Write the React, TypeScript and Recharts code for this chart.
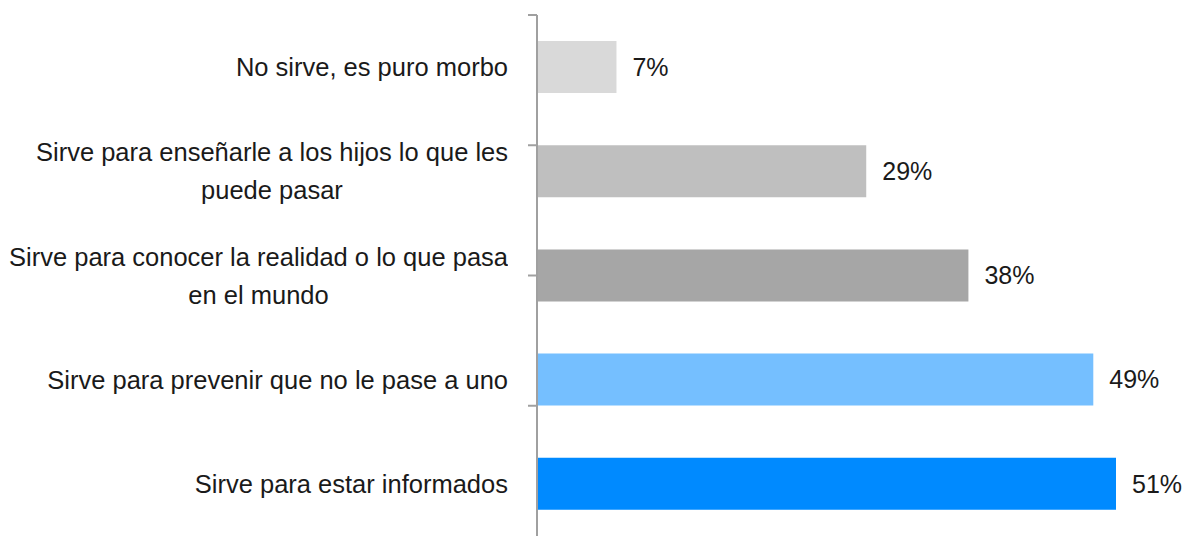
import { BarChart, Bar, XAxis, YAxis, Cell, LabelList } from 'recharts';

const categories = [
  'No sirve, es puro morbo',
  'Sirve para enseñarle a los hijos lo que les\npuede pasar',
  'Sirve para conocer la realidad o lo que pasa\nen el mundo',
  'Sirve para prevenir que no le pase a uno',
  'Sirve para estar informados',
];
const values = [7, 29, 38, 49, 51];
const barColors = ['#d9d9d9', '#bfbfbf', '#a6a6a6', '#75bfff', '#008aff'];
// band edges used only for the tick marks on the vertical axis
const frameTicks = [0, 1, 2, 3, 4, 5];

const FONT = '"Liberation Sans", Arial, sans-serif';

const data = categories.map((label, i) => ({ label, value: values[i] }));

function CategoryTick(props: any) {
  const { x, y, payload } = props;
  return (
    <foreignObject x={x - 500} y={y - 60} width={500} height={120}>
      <div
        style={{
          display: 'flex',
          height: '100%',
          alignItems: 'center',
          justifyContent: 'flex-end',
        }}
      >
        <span
          style={{
            textAlign: 'center',
            whiteSpace: 'pre-line',
            fontFamily: FONT,
            fontSize: 25.5,
            lineHeight: '38px',
            color: '#1a1a1a',
          }}
        >
          {payload.value}
        </span>
      </div>
    </foreignObject>
  );
}

export default function App() {
  return (
    <div style={{ position: 'absolute', left: 0, top: 0, width: 1193, height: 536, background: '#fff' }}>
      <BarChart
        width={1193}
        height={537}
        data={data}
        layout="vertical"
        margin={{ top: 15, right: 77, bottom: 1, left: 0 }}
      >
        <XAxis type="number" domain={[0, 51]} hide />
        <YAxis
          yAxisId="a-frame"
          type="number"
          domain={[0, 5]}
          ticks={frameTicks}
          width={1}
          tickSize={9}
          tickFormatter={() => ''}
          axisLine={{ stroke: '#a0a0a0', strokeWidth: 2 }}
          tickLine={{ stroke: '#a0a0a0', strokeWidth: 2 }}
        />
        <YAxis
          yAxisId="b-labels"
          type="category"
          dataKey="label"
          width={536}
          axisLine={false}
          tickLine={false}
          tickSize={0}
          tickMargin={28}
          interval={0}
          tick={<CategoryTick />}
        />
        <Bar yAxisId="b-labels" dataKey="value" barSize={52} isAnimationActive={false}>
          {data.map((_, i) => (
            <Cell key={i} fill={barColors[i]} />
          ))}
          <LabelList
            dataKey="value"
            position="right"
            offset={16}
            formatter={(v: any) => `${v}%`}
            style={{ fontFamily: FONT, fontSize: 25, fill: '#1a1a1a' }}
          />
        </Bar>
      </BarChart>
    </div>
  );
}
